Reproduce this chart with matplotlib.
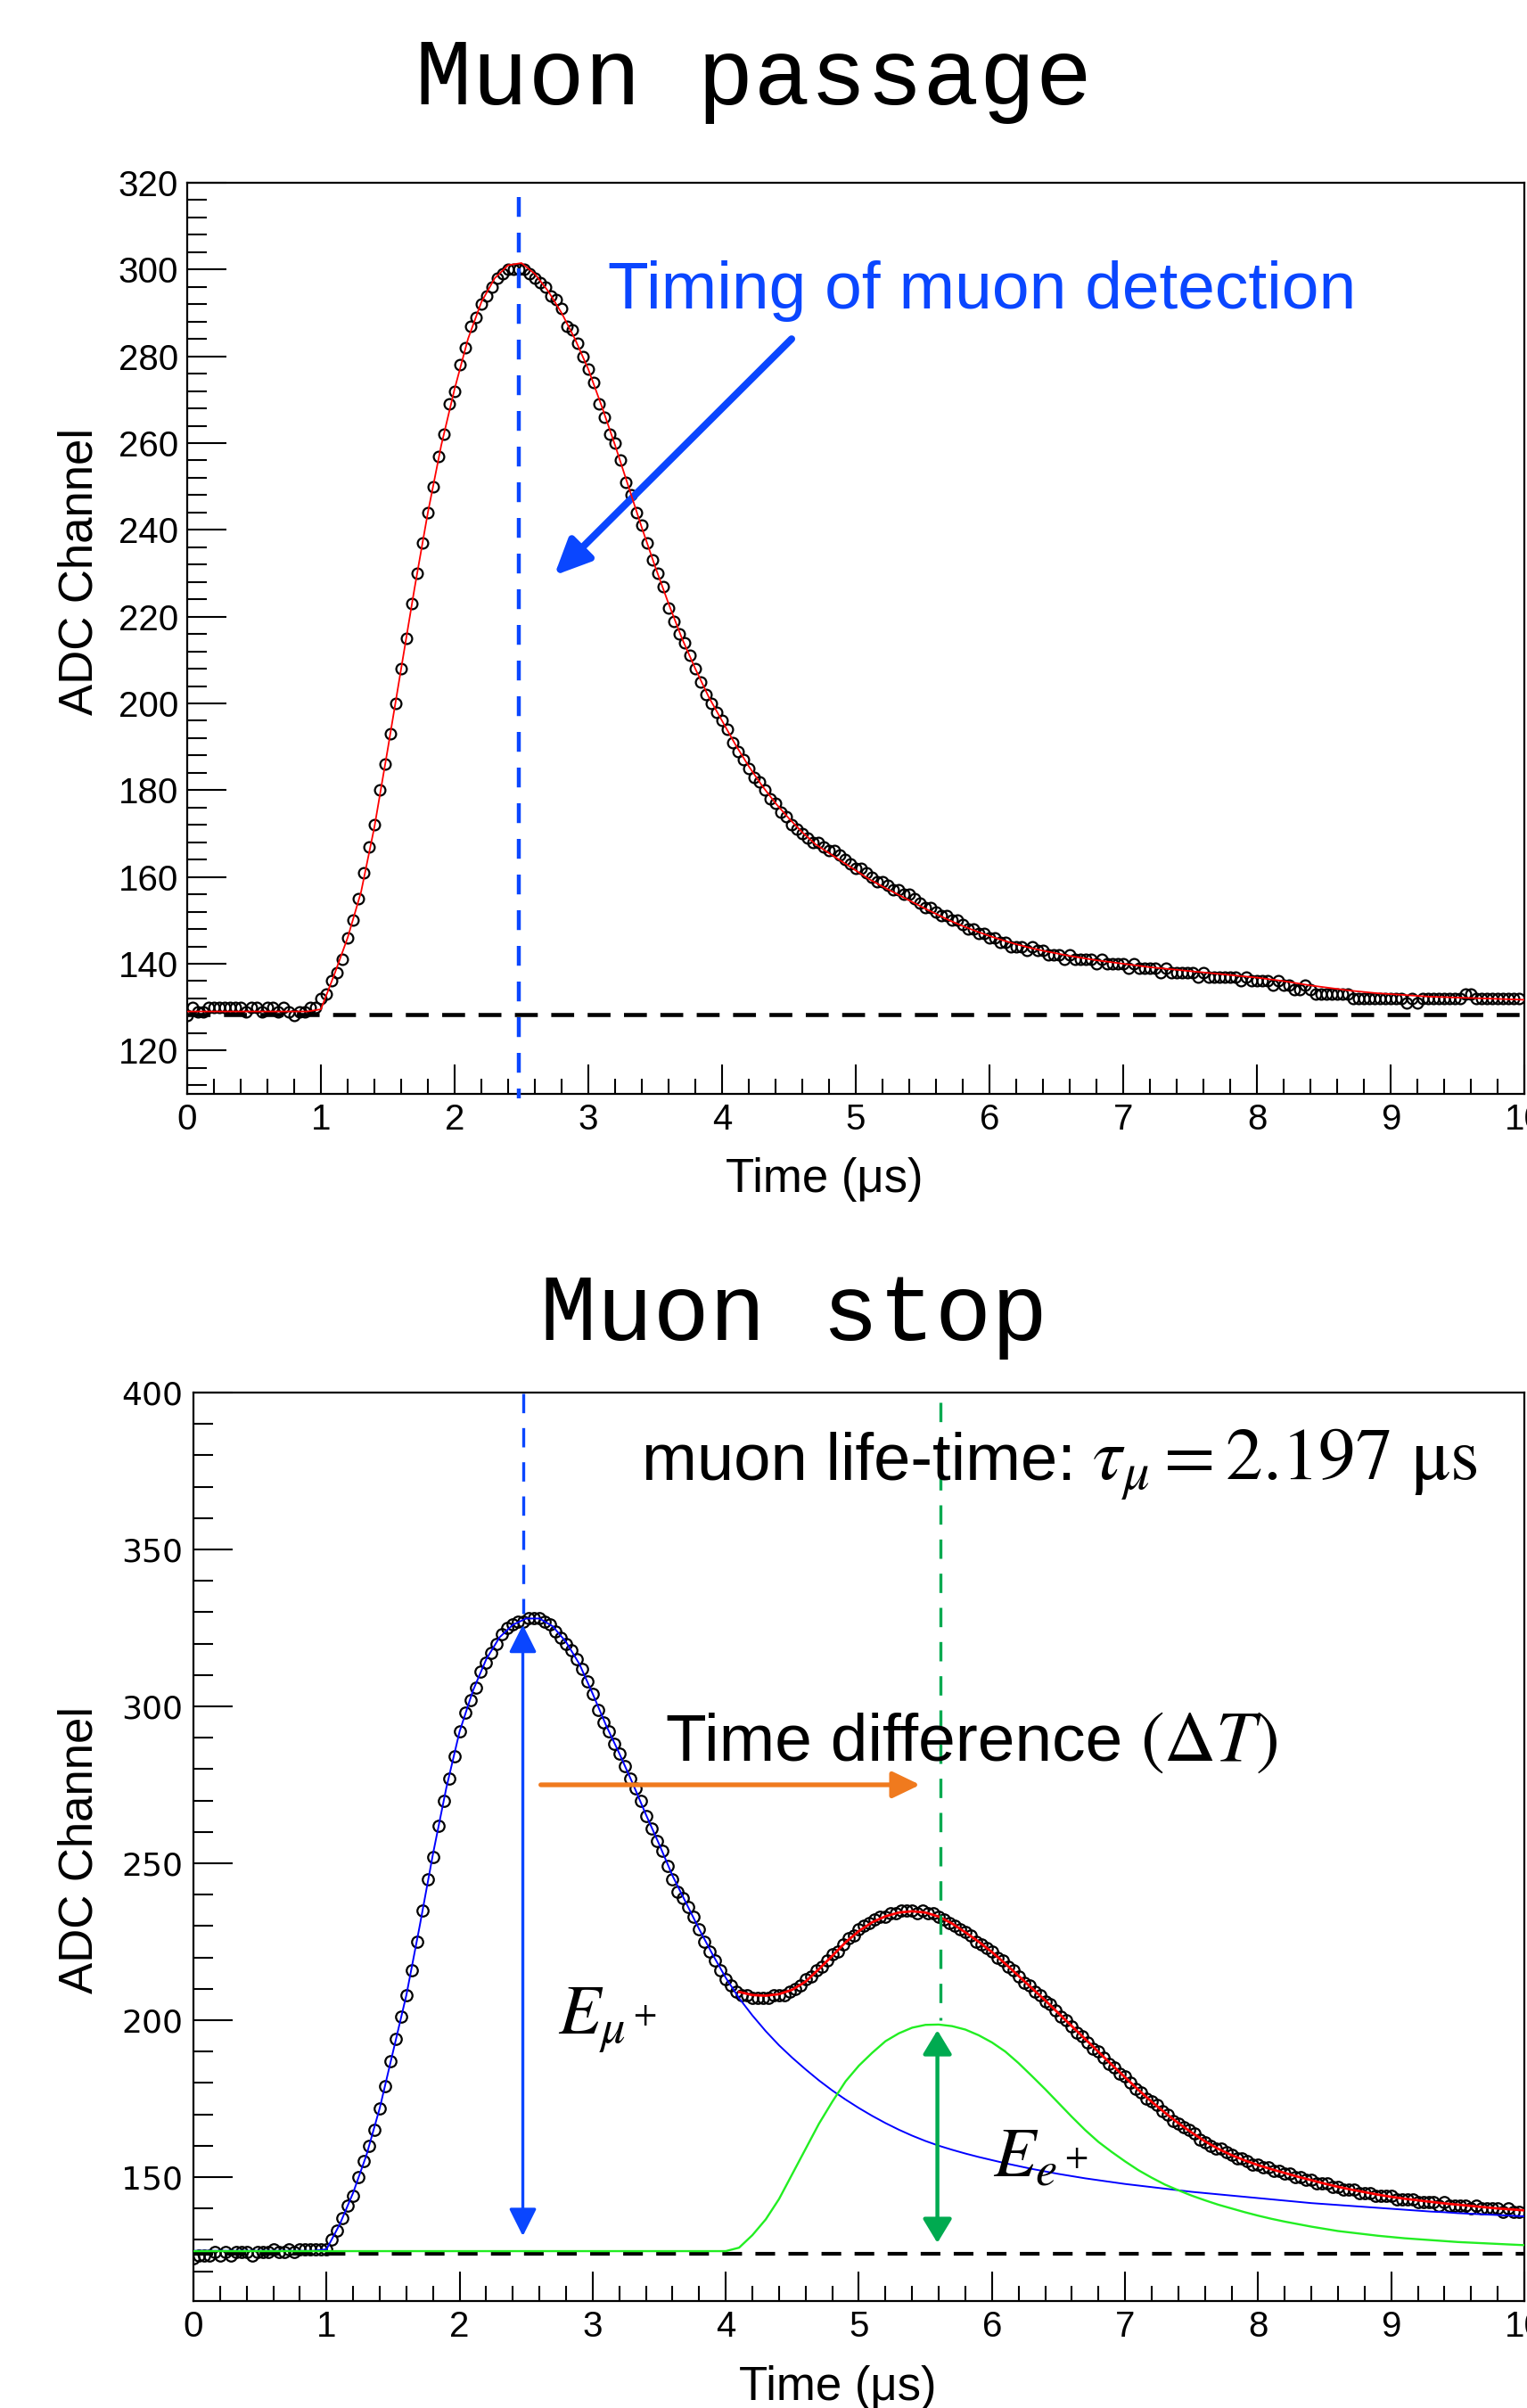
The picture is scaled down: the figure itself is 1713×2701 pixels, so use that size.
import numpy as np
import matplotlib
matplotlib.use("Agg")
import matplotlib.pyplot as plt
from matplotlib.ticker import MultipleLocator

plt.rcParams['font.family'] = ['Liberation Sans', 'DejaVu Sans']
plt.rcParams['mathtext.fontset'] = 'stix'

BLUE = '#0a46ff'
FIT_BLUE = '#0000ff'
GREEN_LINE = '#22ee22'
GREEN_MARK = '#00aa50'
ORANGE = '#f07a1e'
RED = '#ff0000'

# ADC samples, one every 0.04 us (250 samples)
DT = 0.04
top_adc = [
    128, 130, 129, 129, 130, 130, 130, 130, 130, 130, 130, 129, 130, 130, 129, 130, 130, 129, 130, 129, 128, 129, 129, 130, 130,
    132, 133, 136, 138, 141, 146, 150, 155, 161, 167, 172, 180, 186, 193, 200, 208, 215, 223, 230, 237, 244, 250, 257, 262, 269,
    272, 278, 282, 287, 289, 292, 294, 296, 298, 299, 300, 300, 300, 300, 299, 298, 297, 296, 294, 293, 291, 287, 286, 283, 280,
    277, 274, 269, 266, 262, 260, 256, 251, 248, 244, 241, 237, 233, 230, 227, 222, 219, 216, 214, 211, 208, 205, 202, 200, 198,
    196, 194, 191, 189, 187, 185, 183, 182, 180, 178, 177, 175, 174, 172, 171, 170, 169, 168, 168, 167, 166, 166, 165, 164, 163,
    162, 162, 161, 160, 159, 159, 158, 157, 157, 156, 156, 155, 154, 153, 153, 152, 151, 151, 150, 150, 149, 148, 148, 147, 147,
    146, 146, 145, 145, 144, 144, 144, 143, 144, 143, 143, 142, 142, 142, 141, 142, 141, 141, 141, 141, 140, 141, 140, 140, 140,
    140, 139, 140, 139, 139, 139, 139, 138, 139, 138, 138, 138, 138, 138, 137, 138, 137, 137, 137, 137, 137, 137, 136, 137, 136,
    136, 136, 136, 135, 136, 135, 135, 134, 134, 135, 134, 133, 133, 133, 133, 133, 133, 133, 132, 132, 132, 132, 132, 132, 132,
    132, 132, 132, 131, 132, 131, 132, 132, 132, 132, 132, 132, 132, 132, 133, 133, 132, 132, 132, 132, 132, 132, 132, 132, 132,
]
bottom_adc = [
    124, 125, 125, 125, 126, 125, 126, 125, 126, 126, 126, 125, 126, 126, 126, 127, 126, 126, 127, 126, 127, 127, 127, 127, 127,
    127, 130, 133, 137, 141, 144, 150, 155, 160, 165, 172, 179, 187, 194, 201, 208, 216, 225, 235, 245, 252, 262, 270, 277, 284,
    292, 298, 302, 306, 311, 314, 317, 320, 323, 325, 326, 327, 327, 328, 328, 328, 327, 326, 324, 322, 320, 318, 315, 312, 308,
    304, 299, 295, 292, 288, 285, 281, 277, 274, 270, 265, 261, 257, 254, 249, 245, 241, 239, 236, 233, 229, 225, 222, 219, 216,
    213, 211, 209, 208, 208, 207, 207, 207, 207, 208, 208, 208, 209, 210, 211, 213, 214, 216, 217, 219, 221, 222, 224, 226, 227,
    229, 230, 231, 232, 233, 233, 234, 234, 235, 235, 235, 234, 235, 234, 234, 233, 232, 231, 230, 229, 228, 227, 225, 224, 223,
    222, 220, 219, 217, 216, 214, 212, 211, 209, 208, 206, 205, 203, 201, 200, 198, 196, 195, 193, 191, 190, 188, 186, 185, 183,
    182, 180, 178, 177, 175, 174, 173, 171, 170, 168, 167, 166, 165, 164, 162, 161, 160, 159, 159, 158, 157, 156, 156, 155, 154,
    154, 153, 153, 152, 152, 151, 151, 150, 150, 149, 149, 148, 148, 148, 147, 147, 146, 146, 146, 145, 145, 145, 144, 144, 144,
    144, 143, 143, 143, 143, 142, 142, 142, 142, 141, 142, 141, 141, 141, 141, 140, 141, 140, 140, 140, 140, 139, 140, 139, 139,
]

# fit curves sampled every 0.1 us from 0 to 10
top_fit = [
    129.0, 129.0, 129.0, 129.0, 129.0, 129.0, 129.0, 129.0, 129.0, 129.0,
    129.5, 137.5, 146.0, 156.5, 171.5, 189.5, 208.0, 226.5, 244.0, 259.5,
    272.5, 284.0, 292.5, 298.0, 301.0, 301.5, 299.0, 295.0, 290.0, 284.0,
    277.0, 268.5, 259.5, 250.0, 240.5, 231.5, 223.0, 215.0, 208.0, 201.5,
    196.0, 190.5, 185.5, 181.0, 177.0, 173.5, 170.3, 167.5, 165.5, 163.5,
    161.5, 159.5, 157.8, 156.2, 154.6, 153.0, 151.5, 150.0, 148.7, 147.5,
    146.4, 145.4, 144.5, 143.7, 143.0, 142.4, 141.8, 141.3, 140.8, 140.4,
    140.0, 139.6, 139.2, 138.9, 138.6, 138.3, 138.0, 137.7, 137.4, 137.1,
    136.8, 136.4, 136.0, 135.5, 135.0, 134.6, 134.2, 133.8, 133.5, 133.2,
    133.0, 132.8, 132.6, 132.4, 132.3, 132.2, 132.1, 132.0, 131.9, 131.8,
    131.7,
]
muon_fit = [
    126.5, 126.5, 126.5, 126.5, 126.5, 126.5, 126.5, 126.5, 126.5, 126.5,
    127.0, 135.0, 145.0, 157.0, 172.0, 190.0, 208.0, 230.0, 253.0, 274.0,
    292.0, 305.0, 315.0, 322.0, 326.0, 328.0, 328.0, 325.5, 320.5, 313.5,
    304.0, 294.0, 285.0, 275.5, 265.5, 256.0, 246.0, 237.5, 229.0, 221.0,
    213.5, 207.0, 201.5, 196.5, 192.0, 188.0, 184.3, 180.8, 177.6, 174.7,
    172.0, 169.5, 167.2, 165.1, 163.2, 161.5, 160.0, 158.7, 157.5, 156.4,
    155.4, 154.4, 153.5, 152.6, 151.8, 151.0, 150.3, 149.6, 149.0, 148.4,
    147.8, 147.3, 146.8, 146.3, 145.8, 145.3, 144.9, 144.5, 144.1, 143.7,
    143.3, 142.9, 142.5, 142.1, 141.7, 141.4, 141.1, 140.8, 140.5, 140.2,
    139.9, 139.6, 139.3, 139.0, 138.8, 138.5, 138.3, 138.1, 137.9, 137.7,
    137.5,
]
electron_fit = [
    126.4, 126.4, 126.4, 126.4, 126.4, 126.4, 126.4, 126.4, 126.4, 126.4,
    126.4, 126.4, 126.4, 126.4, 126.4, 126.4, 126.4, 126.4, 126.4, 126.4,
    126.4, 126.4, 126.4, 126.4, 126.4, 126.4, 126.4, 126.4, 126.4, 126.4,
    126.4, 126.4, 126.4, 126.4, 126.4, 126.4, 126.4, 126.4, 126.4, 126.4,
    126.4, 127.5, 131.5, 136.5, 143.0, 151.0, 159.0, 167.0, 174.0, 180.5,
    185.5, 189.6, 193.3, 195.8, 197.6, 198.5, 198.6, 198.1, 197.0, 195.2,
    192.9, 190.0, 186.3, 182.2, 178.0, 173.6, 169.2, 165.0, 161.2, 158.0,
    155.0, 152.2, 149.8, 147.6, 145.8, 144.1, 142.6, 141.2, 140.0, 138.8,
    137.7, 136.7, 135.8, 135.0, 134.2, 133.5, 132.8, 132.3, 131.8, 131.3,
    130.9, 130.5, 130.2, 129.9, 129.6, 129.3, 129.1, 128.9, 128.7, 128.5,
    128.3,
]
# total fit, 4.1 .. 10.0 us
total_fit = [
    209.0, 208.0, 207.8, 208.3, 209.7, 212.3, 216.3, 220.5, 224.8,
    228.4, 231.2, 233.1, 234.3, 234.7, 234.3, 233.0, 230.8, 228.0, 225.0,
    221.7, 218.0, 214.1, 210.2, 206.3, 202.2, 198.1, 194.0, 189.9, 185.8,
    181.8, 177.8, 174.0, 170.5, 167.2, 164.2, 161.4, 159.0, 157.0, 155.3,
    153.8, 152.5, 151.3, 150.1, 149.0, 147.9, 146.9, 146.0, 145.2, 144.4,
    143.7, 143.1, 142.6, 142.1, 141.6, 141.2, 140.8, 140.4, 140.0, 139.7,
    139.4,
]

T_MUON = 2.48
TOP_PEDESTAL = 128.3
BOTTOM_PEDESTAL = 125.5

t_top = np.arange(len(top_adc)) * DT
t_bot = np.arange(len(bottom_adc)) * DT
t_fit = np.arange(len(top_fit)) * 0.1
t_total = 4.1 + np.arange(len(total_fit)) * 0.1

W, H = 1713, 2701
fig = plt.figure(figsize=(W / 100, H / 100), dpi=100)


def frame(ax, ylo, yhi, ymaj, ymin, ylab_font, ylab_size):
    ax.set_xlim(0, 10)
    ax.set_ylim(ylo, yhi)
    ax.set_xticks(range(0, 11))
    ax.xaxis.set_minor_locator(MultipleLocator(0.2))
    ax.yaxis.set_major_locator(MultipleLocator(ymaj))
    ax.yaxis.set_minor_locator(MultipleLocator(ymin))
    ax.tick_params(which='both', direction='in', top=False, right=False, width=1.5)
    ax.tick_params(axis='x', which='major', length=24, pad=7, labelsize=29)
    ax.tick_params(axis='x', which='minor', length=12)
    ax.tick_params(axis='y', which='major', length=32, pad=7, labelsize=ylab_size)
    ax.tick_params(axis='y', which='minor', length=16)
    for lab in ax.get_yticklabels():
        lab.set_family(ylab_font)
    for s in ax.spines.values():
        s.set_linewidth(1.6)


def px_axes(left, top, right, bottom):
    return fig.add_axes([left / W, 1 - bottom / H, (right - left) / W, (bottom - top) / H])


# ---------------- Muon passage ----------------
ax1 = px_axes(210, 205, 1710, 1227)
ax1.plot(t_top, top_adc, 'o', mfc='none', mec='k', ms=8.5, mew=1.6, zorder=3)
ax1.plot(t_fit, top_fit, color=RED, lw=1.3, zorder=4)
ax1.axhline(TOP_PEDESTAL, color='k', lw=3.3, ls=(0, (5.6, 3.3)), zorder=2)
ax1.plot([T_MUON, T_MUON], [316.8, 109.0], color=BLUE, lw=3.2, ls=(0, (5, 4)),
         clip_on=False, zorder=5)
ax1.annotate('', xy=(2.745, 229.5), xytext=(4.52, 284),
             arrowprops=dict(arrowstyle='-|>,head_length=2.4,head_width=1.1',
                             mutation_scale=10, color=BLUE, lw=5.8,
                             shrinkA=0, shrinkB=0))
ax1.text(3.15, 291.0, 'Timing of muon detection', color=BLUE, fontsize=54,
         va='baseline')
frame(ax1, 110, 320, 20, 4, 'Liberation Sans', 29)

fig.text(845 / W, 1 - 117 / H, 'Muon passage', family='Liberation Mono',
         fontsize=76, ha='center', va='baseline')
fig.text(90 / W, 1 - 641 / H, 'ADC Channel', rotation=90, ha='center',
         va='center', fontsize=38)
fig.text(925 / W, 1 - 1337 / H, 'Time (\u03bcs)', ha='center', va='baseline',
         fontsize=38)

# ---------------- Muon stop ----------------
ax2 = px_axes(217, 1562, 1710, 2581)
ax2.plot(t_bot, bottom_adc, 'o', mfc='none', mec='k', ms=9, mew=1.6, zorder=3)
ax2.plot(t_fit, muon_fit, color=FIT_BLUE, lw=1.4, zorder=4)
ax2.plot(t_fit, electron_fit, color=GREEN_LINE, lw=1.7, zorder=4)
ax2.plot(t_total, total_fit, color=RED, lw=2.0, zorder=4)
ax2.axhline(BOTTOM_PEDESTAL, color='k', lw=3.0, ls=(0, (5.3, 3.6)), zorder=2)
ax2.plot([2.475, 2.475], [399.8, 329.6], color=BLUE, lw=2.4, ls=(0, (6.5, 5)), zorder=5)
ax2.plot([5.61, 5.61], [397.0, 200.0], color=GREEN_MARK, lw=2.4, ls=(0, (6.5, 5)), zorder=5)
ax2.annotate('', xy=(2.475, 326.0), xytext=(2.475, 131.2),
             arrowprops=dict(arrowstyle='<|-|>,head_length=1.9,head_width=0.95',
                             mutation_scale=10, color=BLUE, lw=2.4,
                             shrinkA=0, shrinkB=0), zorder=6)
ax2.annotate('', xy=(5.59, 196.8), xytext=(5.59, 129.0),
             arrowprops=dict(arrowstyle='<|-|>,head_length=1.65,head_width=1.0',
                             mutation_scale=10, color=GREEN_MARK, lw=3.2,
                             shrinkA=0, shrinkB=0), zorder=6)
ax2.annotate('', xy=(5.46, 275.0), xytext=(2.61, 275.0),
             arrowprops=dict(arrowstyle='-|>,head_length=1.87,head_width=0.9',
                             mutation_scale=10, color=ORANGE, lw=3.8,
                             shrinkA=0, shrinkB=0), zorder=6)
ax2.text(3.37, 372.2, 'muon life-time:', fontsize=53.5, va='baseline', zorder=7)
ax2.text(6.75, 372.2, r'$\tau_\mu = 2.197\ \mathrm{\mu s}$', fontsize=60,
         va='baseline', zorder=7)
ax2.text(3.55, 282.8, 'Time difference', fontsize=54, va='baseline', zorder=7)
ax2.text(7.11, 282.8, r'$(\Delta T)$', fontsize=58, va='baseline', zorder=7)
ax2.text(2.74, 195.6, r'$E_{\mu^+}$', fontsize=56, va='baseline', zorder=7)
ax2.text(6.01, 150.3, r'$E_{e^+}$', fontsize=56, va='baseline', zorder=7)
frame(ax2, 110.5, 400, 50, 10, 'DejaVu Sans', 26)
ax2.tick_params(axis='y', which='major', pad=8.5)

fig.text(891 / W, 1 - 1503 / H, 'Muon stop', family='Liberation Mono',
         fontsize=76, ha='center', va='baseline')
fig.text(90 / W, 1 - 2075 / H, 'ADC Channel', rotation=90, ha='center',
         va='center', fontsize=38)
fig.text(940 / W, 1 - 2692 / H, 'Time (\u03bcs)', ha='center', va='baseline',
         fontsize=38)

fig.savefig('out.png', dpi=100)
